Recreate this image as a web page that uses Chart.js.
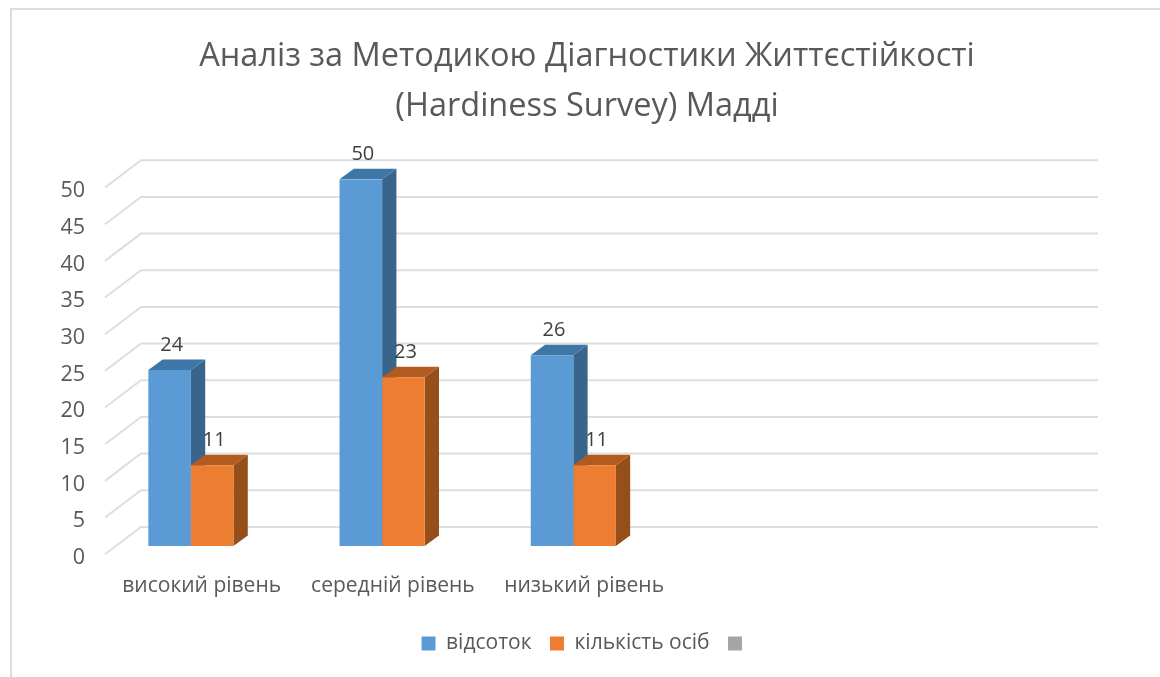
<!DOCTYPE html>
<html>
<head>
<meta charset="utf-8">
<style>
  html, body { margin: 0; padding: 0; background: #fff; }
  #frame { position: absolute; left: 10px; top: 8px; right: 0; bottom: 0; border-top: 2px solid #dcdcdc; border-left: 2px solid #dcdcdc; }
  #grafica { position: absolute; left: 0; top: 0; }
</style>
</head>
<body>
<div id="frame"></div>
<canvas id="grafica" width="1160" height="677"></canvas>
<script src="https://cdn.jsdelivr.net/npm/chart.js@4"></script>
<script>
const kategorii = ["високий рівень", "середній рівень", "низький рівень", "", ""];
const vidsotok = [24, 50, 26, null, null];
const kilkist = [11, 23, 11, null, null];
const porozhnia = [null, null, null, null, null];
const yTicks = [0, 5, 10, 15, 20, 25, 30, 35, 40, 45, 50];
const titleLines = ["Аналіз за Методикою Діагностики Життєстійкості", "(Hardiness Survey) Мадді"];

const FONT = "'Open Sans', sans-serif";
const faces = {
  "#5B9BD5": { side: "#39648C", top: "#3F76A8" },
  "#ED7D31": { side: "#964F1A", top: "#B35A1F" }
};

// 3d look: back wall grid and the extra faces of each bar
const depth3d = {
  id: "depth3d",
  beforeDatasetsDraw(chart) {
    const ctx = chart.ctx;
    const y = chart.scales.y;
    ctx.save();
    ctx.strokeStyle = "#dedede";
    ctx.lineWidth = 2;
    yTicks.forEach(v => {
      const py = y.getPixelForValue(v);
      ctx.beginPath();
      ctx.moveTo(105, py + 8.3);
      ctx.lineTo(141, py - 19);
      ctx.lineTo(1098, py - 19);
      ctx.stroke();
    });
    chart.data.datasets.forEach((ds, i) => {
      const f = faces[ds.backgroundColor];
      if (!f) return;
      chart.getDatasetMeta(i).data.forEach((bar, j) => {
        if (ds.data[j] == null) return;
        const l = bar.x - bar.width / 2, r = bar.x + bar.width / 2;
        const dx = 14.3, dy = 10.5;
        ctx.fillStyle = f.side;
        ctx.beginPath();
        ctx.moveTo(r, bar.y);
        ctx.lineTo(r + dx, bar.y - dy);
        ctx.lineTo(r + dx, bar.base - dy);
        ctx.lineTo(r, bar.base);
        ctx.fill();
        ctx.fillStyle = f.top;
        ctx.beginPath();
        ctx.moveTo(l, bar.y);
        ctx.lineTo(l + dx, bar.y - dy);
        ctx.lineTo(r + dx, bar.y - dy);
        ctx.lineTo(r, bar.y);
        ctx.fill();
      });
    });
    ctx.restore();
  },
  afterDatasetsDraw(chart) {
    const ctx = chart.ctx;
    ctx.save();
    ctx.font = "20px " + FONT;
    ctx.fillStyle = "#404040";
    ctx.textAlign = "center";
    ctx.textBaseline = "middle";
    chart.data.datasets.forEach((ds, i) => {
      chart.getDatasetMeta(i).data.forEach((bar, j) => {
        if (ds.data[j] == null) return;
        ctx.fillText(ds.data[j], bar.x + 2, bar.y - 25);
      });
    });
    ctx.restore();
  }
};

new Chart(document.getElementById("grafica").getContext("2d"), {
  type: "bar",
  data: {
    labels: kategorii,
    datasets: [
      { label: "відсоток", data: vidsotok, backgroundColor: "#5B9BD5" },
      { label: "кількість осіб", data: kilkist, backgroundColor: "#ED7D31" },
      { label: "", data: porozhnia, backgroundColor: "#A5A5A5" }
    ]
  },
  plugins: [depth3d],
  options: {
    responsive: false,
    animation: false,
    layout: { padding: { left: 14, right: 0, top: 0, bottom: 13 } },
    datasets: { bar: { categoryPercentage: 0.668, barPercentage: 1 } },
    plugins: {
      tooltip: { enabled: false },
      title: {
        display: true,
        text: titleLines,
        color: "#595959",
        font: { family: FONT, size: 32.5, weight: "normal", lineHeight: 1.53 },
        padding: { top: 32, bottom: 47.8 }
      },
      legend: {
        position: "bottom",
        labels: {
          boxWidth: 14,
          boxHeight: 14,
          padding: 18.5,
          color: "#595959",
          font: { family: FONT, size: 21 }
        }
      }
    },
    scales: {
      x: {
        grid: { display: false },
        border: { display: false },
        ticks: {
          color: "#595959",
          font: { family: FONT, size: 21 },
          padding: 20,
          labelOffset: -10.5,
          maxRotation: 0,
          autoSkip: false
        },
        afterFit: s => { s.height = 68.6; }
      },
      y: {
        min: 0,
        max: 50,
        grid: { display: false },
        border: { display: false },
        afterBuildTicks: s => { s.ticks = yTicks.map(v => ({ value: v })); },
        ticks: {
          color: "#595959",
          font: { family: FONT, size: 21.5 },
          padding: 23.6,
          labelOffset: 12
        },
        afterFit: s => { s.width = 102.6; }
      },
      // keeps the plot off the right side while the title stays centred
      yRight: {
        position: "right",
        grid: { display: false },
        border: { display: false },
        ticks: { display: false },
        afterFit: s => { s.width = 87.4; }
      }
    }
  }
});
</script>
</body>
</html>
